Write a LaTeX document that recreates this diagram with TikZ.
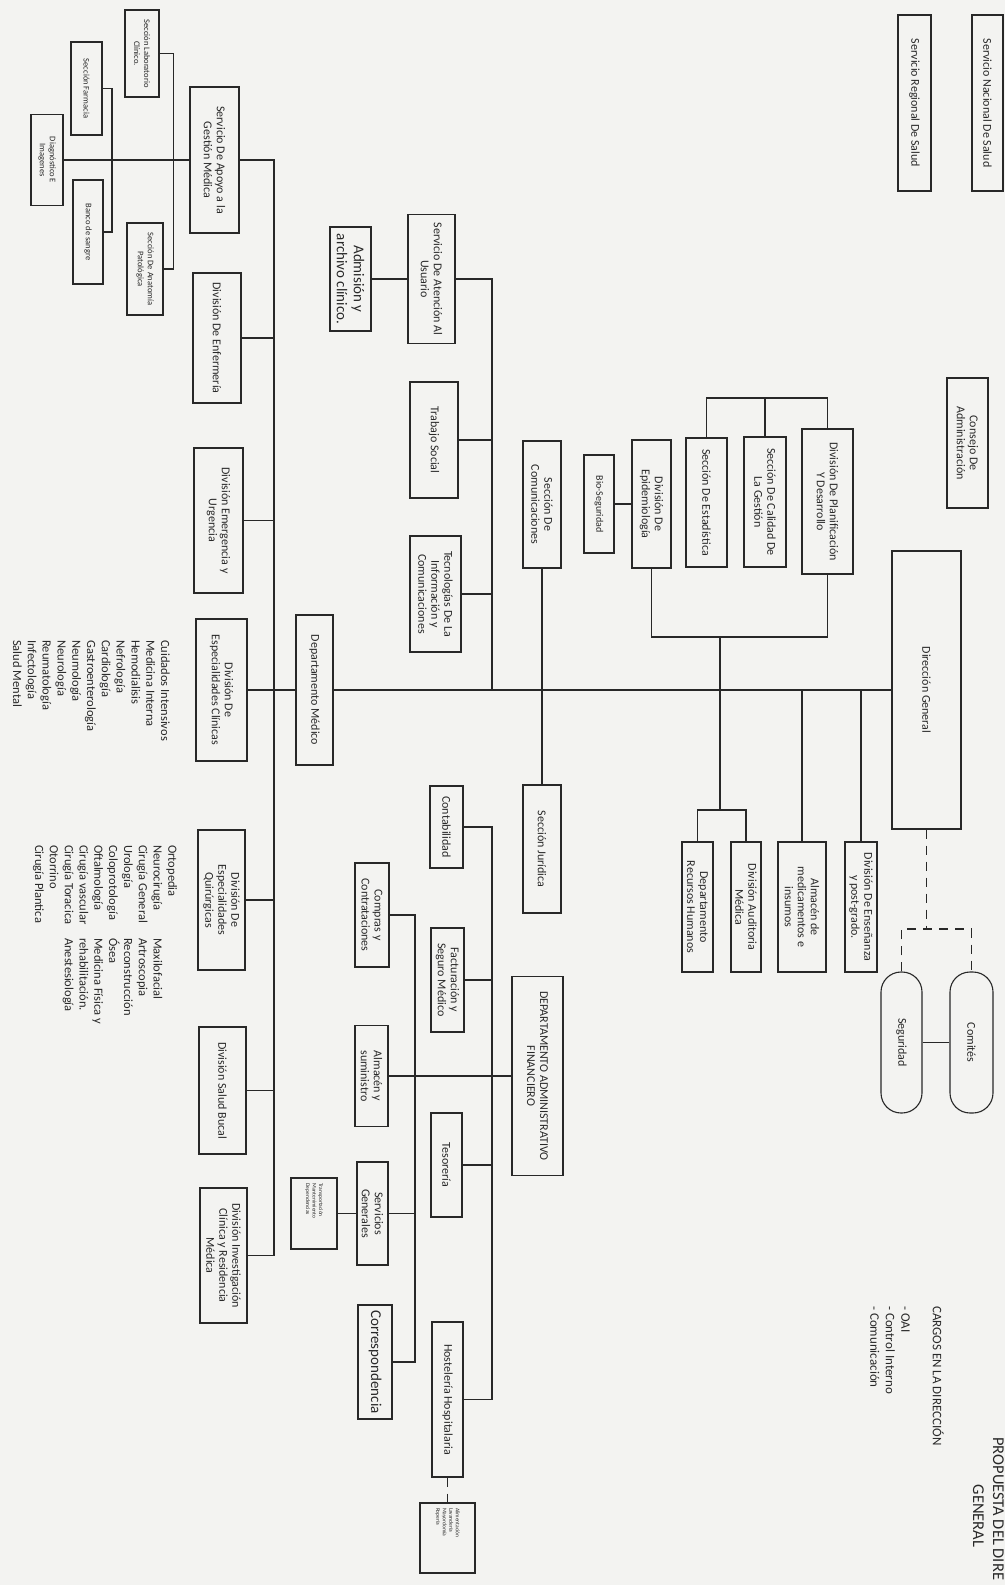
\documentclass[tikz,border=0pt]{standalone}
\usepackage{fontspec}
\setmainfont{Carlito}
\usepackage{tikz}
\definecolor{paper}{RGB}{243,243,241}
\definecolor{ink}{RGB}{40,40,40}

\begin{document}
\begin{tikzpicture}[
    x=1pt, y=1pt, rotate=-90, transform shape,
    every node/.style={text=ink},
    box/.style 2 args={draw=ink, line width=1.1pt, align=center,
                minimum width=#1pt, minimum height=#2pt, inner sep=2pt,
                font=\fontsize{12}{13}\selectfont},
    smalltxt/.style={font=\fontsize{8.5}{10}\selectfont},
    tinytxt/.style={font=\fontsize{5.5}{6.5}\selectfont, text width=60pt, align=left},
    bigtxt/.style={font=\fontsize{15}{17}\selectfont},
    pill/.style={rounded corners=20pt},
    link/.style={draw=ink, line width=1.2pt},
    aux/.style={link, dash pattern=on 9pt off 7pt},
    listtxt/.style={align=left, inner sep=0pt, anchor=north west,
                font=\fontsize{12.5}{14.8}\selectfont},
]
\useasboundingbox (0,0) rectangle (1585,1005);
\fill[paper] (0,0) rectangle (1585,1005);

% ---- top of the chart ----
\node[box={176}{31}] (nacional)  at (103,987.5)  {Servicio Nacional De Salud};
\node[box={176}{33}] (regional)  at (103,914.5)  {Servicio Regional De Salud};
\node[box={130}{41}] (consejo)   at (443,967.5)  {Consejo De\\Administración};
\node[box={278}{69}] (direccion) at (690,926.5)  {Dirección General};
\node[box={141}{43}, pill] (comites)   at (1042.5,971.5) {Comités};
\node[box={141}{41}, pill] (seguridad) at (1042.5,901.5) {Seguridad};

% ---- planning and staff units ----
\node[box={145}{51}] (planif)   at (501.5,827.5) {División De Planificación\\Y Desarrollo};
\node[box={130}{42}] (calidad)  at (502,765)     {Sección De Calidad De\\La Gestión};
\node[box={129}{41}] (estad)    at (502.5,706.5) {Sección De Estadística};
\node[box={128}{39}] (epidem)   at (504,651.5)   {División De\\Epidemiología};
\node[box={98}{30}, font=\fontsize{10}{11}\selectfont] (bioseg) at (504,599) {Bio-Seguridad};
\node[box={127}{38}] (comunic)  at (504.5,542)   {Sección De\\Comunicaciones};
\node[box={128}{38}] (juridica) at (849,542)     {Sección Jurídica};

\node[box={130}{32}] (ensenanza) at (907,861)   {División De Enseñanza\\y post-grado.};
\node[box={130}{48}] (almmed)    at (907,802)   {Almacén de\\medicamentos e\\insumos};
\node[box={130}{30}] (auditoria) at (907,746)   {División Auditoria\\Médica};
\node[box={130}{31}] (rrhh)      at (907,697.5) {Departamento\\Recursos Humanos};

% ---- user services ----
\node[box={129}{47}]         (atencion) at (279,431.5) {Servicio De Atención Al\\Usuario};
\node[box={104}{41}, bigtxt] (admision) at (279,350.5) {Admisión y\\archivo clínico.};
\node[box={116}{48}]         (trabajo)  at (440,434)   {Trabajo Social};
\node[box={116}{51}]         (tic)      at (594,435.5) {Tecnologías De La\\Información y\\Comunicaciones};
\node[box={150}{37}]         (dptomed)  at (690,314.5) {Departamento Médico};

% ---- medical divisions ----
\node[box={146}{49}] (apoyo) at (160,214.5) {Servicio De Apoyo a la\\Gestión Médica};
\node[box={87}{34}, smalltxt]  (lab)      at (53.5,142) {Sección Laboratorio\\Clínico.};
\node[box={93}{31}, smalltxt]  (farmacia) at (88.5,86.5) {Sección Farmacia};
\node[box={91}{32}, smalltxt]  (diagn)    at (160,47)   {Diagnóstico E\\Imagenes};
\node[box={104}{30}, smalltxt] (banco)    at (232,88)   {Banco de sangre};
\node[box={92}{36}, smalltxt]  (anatomia) at (269,145)  {Sección De Anatomía\\Patológica};

\node[box={130}{48}] (enfermeria) at (338,217)    {División De Enfermería};
\node[box={145}{49}] (emergencia) at (520.5,218.5) {División Emergencia y\\Urgencia};
\node[box={142}{51}] (clinicas)   at (690,221.5)  {División De\\Especialidades Clínicas};
\node[box={140}{47}] (quirurg)    at (900,221.5)  {División De\\Especialidades\\Quirúrgicas};
\node[box={127}{47}] (bucal)      at (1090.5,222.5) {División Salud Bucal};
\node[box={135}{47}] (investig)   at (1255.5,223.5) {División Investigación\\Clínica y Residencia\\Médica};

\node[listtxt] (clinlist) at (640,170) {Cuidados Intensivos\\Medicina Interna\\Hemodialisis\\Nefrología\\Cardiología\\Gastroenterología\\Neumología\\Neurología\\Reumatología\\Infectología\\Salud Mental};
\node[listtxt] (quirlist) at (845,179) {\begin{tabular}{@{}p{93pt}@{}l@{}}
  Ortopedia & \\ Neurocirugía & Maxilofacial\\ Cirugía General & Artroscopia\\
  Urología & Reconstrucción\\ Coloprotología & Ósea\\ Oftalmología & Medicina Física y\\
  Cirugía vascular & rehabilitación.\\ Cirugía Toracica & Anestesiología\\
  Otorrino & \\ Cirugía Plantica & \end{tabular}};

% ---- administration and finance ----
\node[box={82}{33}]  (contab)    at (827,446.5)  {Contabilidad};
\node[box={104}{34}] (compras)   at (915,372)    {Compras y\\Contrataciones};
\node[box={104}{33}] (factur)    at (980,447.5)  {Facturación y\\Seguro Médico};
\node[box={199}{51}] (dptoadm)   at (1076,537.5) {DEPARTAMENTO ADMINISTRATIVO\\FINANCIERO};
\node[box={101}{33}] (almsum)    at (1076,371.5) {Almacén y\\suministro};
\node[box={104}{31}] (tesoreria) at (1165,446.5) {Tesorería};
\node[box={103}{31}] (servgen)   at (1213.5,372.5) {Servicios\\Generales};
\node[box={71}{46}, tinytxt] (transp) at (1213.5,314) {Transportación\\Mantenimiento\\Dependencias};
\node[box={114}{34}, bigtxt] (corresp) at (1362,375) {Correspondencia};
\node[box={155}{31}] (hostel)    at (1399.5,447.5) {Hostelería Hospitalaria};
\node[box={70}{55}, tinytxt] (alim) at (1538,447.5) {Alimentación\\Lavandería\\Mayordomía\\Ropería};

% ---- notes ----
\node[listtxt, font=\fontsize{13}{15.5}\selectfont] (cargos) at (1306,944)
  {CARGOS EN LA DIRECCIÓN\\[16pt]- OAI\\- Control Interno\\- Comunicación};
\node[anchor=base west, inner sep=0pt, font=\fontsize{16.5}{20}\selectfont] (titulo) at (1437,993) {PROPUESTA DEL DIRE};
\node[anchor=base, inner sep=0pt, font=\fontsize{16.5}{20}\selectfont] (titulob) at (1516,973) {GENERAL};

% ---- connectors ----
\coordinate (trunk)  at (690,0);
\coordinate (lbus)   at (0,274);
\coordinate (sbus)   at (0,492);
\coordinate (fbus)   at (0,492);
\coordinate (cbus)   at (0,415);
\coordinate (topbar) at (398,0);
\coordinate (hrj)    at (810,720);
\coordinate (pj)     at (637,720);
\coordinate (dj)     at (929,926.5);

\draw[link] (direccion.south) -- (dptomed.north);
\draw[link] (dptomed.south) -- (clinicas.north);
\draw[link] (ensenanza.west) -- (trunk |- ensenanza.west);
\draw[link] (almmed.west) -- (trunk |- almmed.west);
\draw[link] (trunk |- hrj) -- (hrj);
\draw[link] (rrhh.west) -- (rrhh.west -| hrj) |- (auditoria.west);
\draw[link] (trunk |- pj) -- (pj);
\draw[link] (epidem.east) -- (epidem.east -| pj) |- (planif.east);
\draw[link] (estad.west) -- (estad.west -| topbar) |- (planif.west);
\draw[link] (calidad.west) -- (calidad.west -| topbar);
\draw[link] (bioseg) -- (epidem);
\draw[link] (comunic) -- (juridica);

\draw[link] (admision) -- (atencion);
\draw[link] (atencion.north) -- (atencion.north |- sbus) -- (trunk |- sbus);
\draw[link] (trabajo.north) -- (trabajo.north |- sbus);
\draw[link] (tic.north) -- (tic.north |- sbus);

\draw[link] (apoyo.north) -- (apoyo.north |- lbus) -- (investig.north |- lbus) -- (investig.north);
\draw[link] (enfermeria.north) -- (enfermeria.north |- lbus);
\draw[link] (emergencia.north) -- (emergencia.north |- lbus);
\draw[link] (quirurg.north) -- (quirurg.north |- lbus);
\draw[link] (bucal.north) -- (bucal.north |- lbus);
\draw[link] (diagn) -- (apoyo);
\draw[link] (farmacia.north) -- ++(0,9.5) -| (banco.north);
\draw[link] (lab.north) -- ++(0,14) -| (anatomia.north);

\draw[link] (contab.north) -- (contab.north |- fbus) -- (hostel.north |- fbus) -- (hostel.north);
\draw[link] (factur.north) -- (factur.north |- fbus);
\draw[link] (tesoreria.north) -- (tesoreria.north |- fbus);
\draw[link] (compras.north) -- (compras.north |- cbus) -- (corresp.north |- cbus) -- (corresp.north);
\draw[link] (servgen.north) -- (servgen.north |- cbus);
\draw[link] (almsum) -- (dptoadm);
\draw[link] (servgen) -- (transp);
\draw[aux] (hostel) -- (alim);

\draw[aux] (direccion.east) -- (dj);
\draw[aux] (seguridad.west) -- (seguridad.west -| dj) -- (comites.west -| dj) -- (comites.west);
\draw[link] (seguridad) -- (comites);
\end{tikzpicture}
\end{document}
